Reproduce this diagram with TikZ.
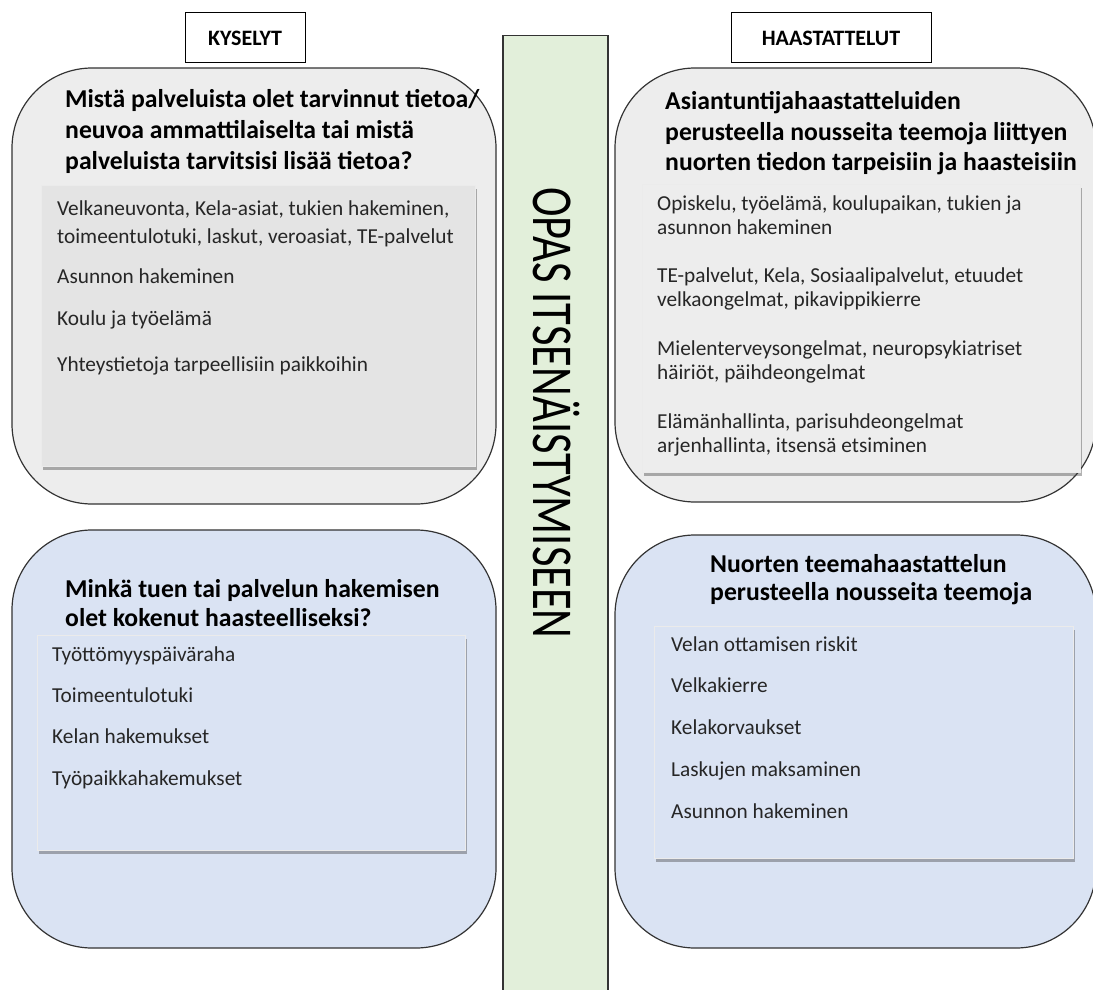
\documentclass[tikz,border=0pt]{standalone}
\usepackage{fontspec}
\setmainfont{Carlito}
\usepackage{graphicx}
\usetikzlibrary{shadows}
\definecolor{harmaa}{HTML}{EDEDED}
\definecolor{harmaasisa}{HTML}{E4E4E4}
\definecolor{sininen}{HTML}{DAE3F3}
\definecolor{vihrea}{HTML}{E2EFDA}
\definecolor{teksti}{HTML}{262626}
\tikzset{
  otsikko/.style={draw=black, line width=1pt, fill=white, minimum height=50pt,
    inner sep=0pt, font=\bfseries\fontsize{22}{24}\selectfont},
  ulkolaatikko/.style={draw=black!80, line width=1.2pt, rounded corners=80pt, inner sep=0pt},
  sisalaatikko/.style={draw=black!8, line width=0.8pt, inner sep=0pt, drop shadow={shadow xshift=1.5pt,
    shadow yshift=-3.5pt, opacity=0.4, fill=black!75}},
  kysymys/.style={anchor=base west, inner sep=0pt, font=\bfseries\fontsize{25.7}{28}\selectfont},
  kohta/.style={anchor=base west, inner sep=0pt, text=teksti, font=\fontsize{21.3}{24}\selectfont},
}

\begin{document}
\begin{tikzpicture}[x=1pt, y=-1pt]
\useasboundingbox (0,0) rectangle (1093,990);
\clip (0,0) rectangle (1093,990);

%%%%%%%%%%%%%%%%%%%%%%%%%%%%%%%%%%%%%%%%%%%%%%%%%%%%%%%%%%%%%% Keskipalkki
\node[draw=black!80, line width=1.2pt, fill=vihrea, minimum width=105pt,
  minimum height=980pt, anchor=north, inner sep=0pt] (palkki) at (555.5,35) {};
\node[rotate=-90, inner sep=0pt, font=\fontsize{44.5}{44}\selectfont] (opas) at (556,413)
  {\scalebox{1}[1.3]{OPAS ITSENÄISTYMISEEN}};

%%%%%%%%%%%%%%%%%%%%%%%%%%%%%%%%%%%%%%%%%%%%%%%%%%%%%%%%%%%%%% Otsikot
\node[otsikko, minimum width=120pt] (kyselyt) at (245,38) {KYSELYT};
\node[otsikko, minimum width=200pt] (haast) at (831,38) {HAASTATTELUT};

%%%%%%%%%%%%%%%%%%%%%%%%%%%%%%%%%%%%%%%%%%%%%%%%%%%%%%%%%%%%%% Kyselyt
\node[ulkolaatikko, fill=harmaa, minimum width=484pt, minimum height=436pt] (kys1) at (254,286) {};
\node[sisalaatikko, fill=harmaasisa, minimum width=434pt, minimum height=281pt] (kys1sisa) at (258,325.5) {};
\foreach \y/\rivi [count=\i] in {107/{Mistä palveluista olet tarvinnut tietoa/},
    139/{neuvoa ammattilaiselta tai mistä}, 169/{palveluista tarvitsisi lisää tietoa?}}
  \node[kysymys] (kys1q-\i) at (65,\y) {\rivi};
\foreach \y/\rivi [count=\i] in {215/{Velkaneuvonta, Kela-asiat, tukien hakeminen,},
    243/{toimeentulotuki, laskut, veroasiat, TE-palvelut}, 283/{Asunnon hakeminen},
    325/{Koulu ja työelämä}, 371/{Yhteystietoja tarpeellisiin paikkoihin}}
  \node[kohta] (kys1k-\i) at (57,\y) {\rivi};

\node[ulkolaatikko, fill=sininen, minimum width=484pt, minimum height=418pt] (kys2) at (254,739) {};
\node[sisalaatikko, fill=sininen, minimum width=428pt, minimum height=215pt] (kys2sisa) at (251,742.5) {};
\foreach \y/\rivi [count=\i] in {597/{Minkä tuen tai palvelun hakemisen},
    626/{olet kokenut haasteelliseksi?}}
  \node[kysymys] (kys2q-\i) at (65,\y) {\rivi};
\foreach \y/\rivi [count=\i] in {661/Työttömyyspäiväraha, 702/Toimeentulotuki,
    743/Kelan hakemukset, 785/Työpaikkahakemukset}
  \node[kohta] (kys2k-\i) at (52,\y) {\rivi};

%%%%%%%%%%%%%%%%%%%%%%%%%%%%%%%%%%%%%%%%%%%%%%%%%%%%%%%%%%%%%% Haastattelut
\node[ulkolaatikko, fill=harmaa, minimum width=481pt, minimum height=434pt] (haa1) at (855.5,285) {};
\node[sisalaatikko, fill=harmaa, minimum width=438pt, minimum height=288pt] (haa1sisa) at (861,328) {};
\foreach \y/\rivi [count=\i] in {110/{Asiantuntijahaastatteluiden},
    140/{perusteella nousseita teemoja liittyen}, 170/{nuorten tiedon tarpeisiin ja haasteisiin}}
  \node[kysymys] (haa1q-\i) at (665,\y) {\rivi};
\foreach \y/\rivi [count=\i] in {210/{Opiskelu, työelämä, koulupaikan, tukien ja},
    234/{asunnon hakeminen}, 282/{TE-palvelut, Kela, Sosiaalipalvelut, etuudet},
    306/{velkaongelmat, pikavippikierre}, 355/{Mielenterveysongelmat, neuropsykiatriset},
    379/{häiriöt, päihdeongelmat}, 428/{Elämänhallinta, parisuhdeongelmat},
    452/{arjenhallinta, itsensä etsiminen}}
  \node[kohta] (haa1k-\i) at (657,\y) {\rivi};

\node[ulkolaatikko, fill=sininen, minimum width=481pt, minimum height=413pt] (haa2) at (855.5,741.5) {};
\node[sisalaatikko, fill=sininen, minimum width=419pt, minimum height=232pt] (haa2sisa) at (863.5,742) {};
\foreach \y/\rivi [count=\i] in {572/{Nuorten teemahaastattelun},
    600/{perusteella nousseita teemoja}}
  \node[kysymys] (haa2q-\i) at (710,\y) {\rivi};
\foreach \y/\rivi [count=\i] in {651/Velan ottamisen riskit, 692/Velkakierre,
    734/Kelakorvaukset, 776/Laskujen maksaminen, 818/Asunnon hakeminen}
  \node[kohta] (haa2k-\i) at (671,\y) {\rivi};

\end{tikzpicture}
\end{document}
